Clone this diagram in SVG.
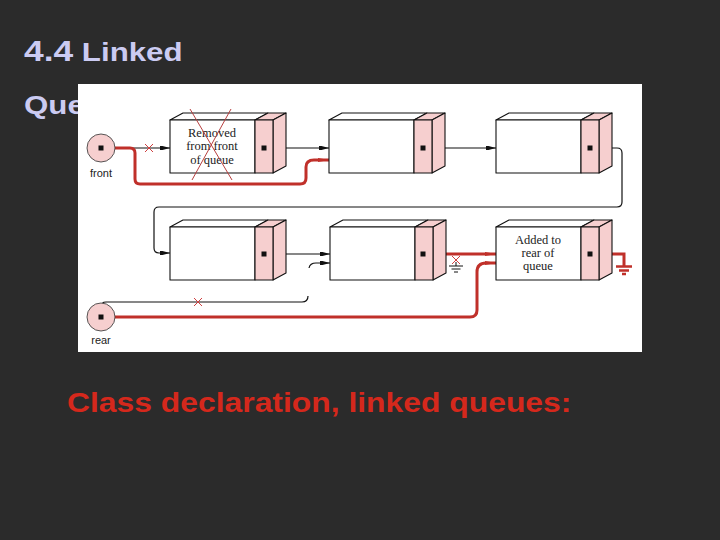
<svg xmlns="http://www.w3.org/2000/svg" xmlns:xlink="http://www.w3.org/1999/xlink" width="720" height="540" viewBox="0 0 720 540">
<style>
.title{font-family:"Liberation Sans",Arial,sans-serif;font-weight:bold;fill:#cbcbf2}
.cap{font-family:"Liberation Sans",Arial,sans-serif;font-weight:bold;fill:#d5281c;font-size:27px}
.lbl{font-family:"Liberation Sans",Arial,sans-serif;font-size:11px;fill:#222;text-anchor:middle}
.ntxt{font-family:"Liberation Serif","Times New Roman",serif;font-size:12.5px;fill:#222;text-anchor:middle}
.ln{fill:none;stroke:#111;stroke-width:1.2}
.rd{fill:none;stroke:#c0302a;stroke-width:3}
.xm{fill:none;stroke:#d04040;stroke-width:1}
.face{stroke:#111;stroke-width:1.1;stroke-linejoin:round}
.w{fill:#fff}
.p{fill:#f6cfcf}
.dot{fill:#111}
.circ{fill:#f6cfcf;stroke:#444;stroke-width:0.9}
</style>
<defs>
<marker id="ab" markerUnits="userSpaceOnUse" markerWidth="11" markerHeight="8" refX="10" refY="4" orient="auto">
<path d="M0,2 H2.5 L10,4 L2.5,6 H0 Z" fill="#111"/>
</marker>
<marker id="ar" markerUnits="userSpaceOnUse" markerWidth="12" markerHeight="10" refX="11" refY="5" orient="auto">
<path d="M0,3 L11,5 L0,7 Z" fill="#c0302a"/>
</marker>
<g id="box">
<polygon class="face w" points="0,0 13,-7 98,-7 85,0"/>
<polygon class="face p" points="85,0 98,-7 116,-7 103,0"/>
<polygon class="face p" points="103,0 116,-7 116,46 103,53"/>
<rect class="face w" x="0" y="0" width="85" height="53"/>
<rect class="face p" x="85" y="0" width="18" height="53"/>
</g>
</defs>
<rect x="0" y="0" width="720" height="540" fill="#2b2b2b"/>
<text class="title" transform="translate(24,61) scale(1.18,1)"><tspan font-size="30">4.4</tspan><tspan font-size="26.5"> Linked</tspan></text>
<text class="title" font-size="26.5" transform="translate(24,114) scale(1.18,1)">Que</text>
<rect x="78" y="84" width="564" height="268" fill="#fff"/>

<g id="connectors">
<path class="ln" d="M101,148 H170" marker-end="url(#ab)"/>
<path class="ln" d="M264,148 H329" marker-end="url(#ab)"/>
<path class="ln" d="M423,148 H496" marker-end="url(#ab)"/>
<path class="ln" d="M590,148 H617 Q622,148 622,153 V202 Q622,207 617,207 H159 Q154,207 154,212 V248 Q154,253 159,253 H170" marker-end="url(#ab)"/>
<path class="ln" d="M264,254 H330" marker-end="url(#ab)"/>
<path class="ln" d="M101,317 V307 Q101,302 106,302 H302 Q308,302 308,296"/>
<path class="ln" d="M309,268 Q310,263 316,263 H330" marker-end="url(#ab)"/>
<path class="rd" d="M101,148 H130 Q135,148 135,153 V179 Q135,184 140,184 H300 Q306,184 306,178 V167 Q306,160 314,160 H329" marker-end="url(#ar)"/>
<path class="rd" d="M101,317 H470 Q477,317 477,310 V272 Q477,263 486,263 H496" marker-end="url(#ar)"/>
<path class="rd" d="M423,254 H496" marker-end="url(#ar)"/>
<path class="rd" d="M590,254 H624 V266"/>
<path d="M616,266.5 H632 M619,270.5 H629 M622,274 H626" fill="none" stroke="#c0302a" stroke-width="2.5"/>
<path d="M456,262 V266 M449,266 H463 M451.5,269 H460.5 M454,272 H458" fill="none" stroke="#111" stroke-width="1"/>
<path class="xm" d="M145,144 L153,152 M153,144 L145,152"/>
<path class="xm" d="M194,298 L202,306 M202,298 L194,306"/>
<path class="xm" d="M452,256 L460,264 M460,256 L452,264"/>
</g>

<g id="node-front">
<circle class="circ" cx="101" cy="148" r="14"/>
<rect class="dot" x="98.5" y="145.5" width="5" height="5"/>
<text class="lbl" x="101" y="177">front</text>
</g>
<g id="node-rear">
<circle class="circ" cx="101" cy="317" r="14"/>
<rect class="dot" x="98.5" y="314.5" width="5" height="5"/>
<text class="lbl" x="101" y="344">rear</text>
</g>

<g id="node-q1">
<use xlink:href="#box" href="#box" x="170" y="120"/>
<rect class="dot" x="261.5" y="145.5" width="5" height="5"/>
<text class="ntxt" x="212" y="137">Removed</text>
<text class="ntxt" x="212" y="150">from front</text>
<text class="ntxt" x="212" y="164">of queue</text>
<path d="M190,109 L232,180 M231,109 L192,180" fill="none" stroke="#b84040" stroke-width="1"/>
</g>
<g id="node-q2">
<use xlink:href="#box" href="#box" x="329" y="120"/>
<rect class="dot" x="420.5" y="145.5" width="5" height="5"/>
</g>
<g id="node-q3">
<use xlink:href="#box" href="#box" x="496" y="120"/>
<rect class="dot" x="587.5" y="145.5" width="5" height="5"/>
</g>
<g id="node-q4">
<use xlink:href="#box" href="#box" x="170" y="227"/>
<rect class="dot" x="261.5" y="251.5" width="5" height="5"/>
</g>
<g id="node-q5">
<use xlink:href="#box" href="#box" x="330" y="227"/>
<rect class="dot" x="420.5" y="251.5" width="5" height="5"/>
</g>
<g id="node-q6">
<use xlink:href="#box" href="#box" x="496" y="227"/>
<rect class="dot" x="587.5" y="251.5" width="5" height="5"/>
<text class="ntxt" x="538" y="244">Added to</text>
<text class="ntxt" x="538" y="257">rear of</text>
<text class="ntxt" x="538" y="270">queue</text>
</g>

<text class="cap" transform="translate(67,412) scale(1.18,1)">Class declaration, linked queues:</text>
</svg>
